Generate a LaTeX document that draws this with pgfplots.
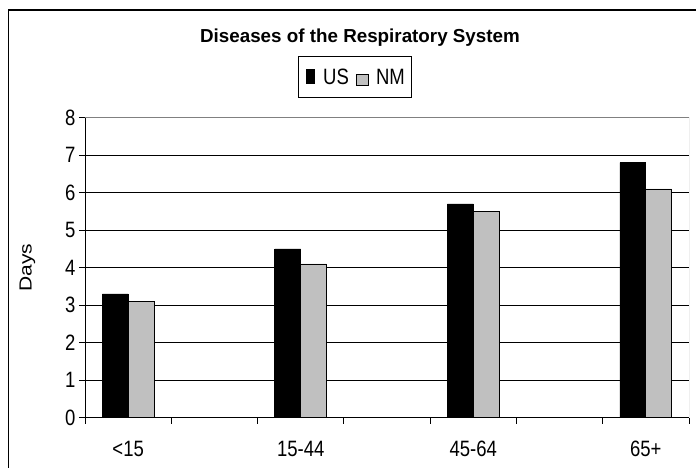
\documentclass[border=0pt]{standalone}
\usepackage{pgfplots}
\pgfplotsset{compat=1.18}
\usepackage{fontspec}
\setmainfont{Liberation Sans}
\definecolor{nmgray}{RGB}{192,192,192}
\definecolor{axgray}{RGB}{128,128,128}
% the chart's text is drawn a little taller than wide
\newcommand{\tall}[1]{\scalebox{1}[1.2]{#1}}

\begin{document}
\begin{tikzpicture}
\path[use as bounding box] (0,0) rectangle (696pt,468pt);
% chart frame, cut by the picture edge on the right and bottom
\begin{scope}
  \clip (0,0) rectangle (696pt,468pt);
  \draw[line width=1.2pt] (8.5pt,-10pt) -- (8.5pt,458pt) -- (710pt,458pt);
\end{scope}
\begin{axis}[
    at={(85pt,50.3pt)}, anchor=south west,
    scale only axis, width=604pt, height=300pt,
    ybar=0pt, bar width=0.3,
    xmin=-0.5, xmax=6.5, ymin=0, ymax=8,
    xtick={-0.5,0.5,...,6.5},
    xticklabels={\tall{<15},,\tall{15-44},,\tall{45-64},,\tall{65+}},
    x tick label as interval,
    xticklabel style={yshift=-14pt},
    ytick={0,1,...,8},
    yticklabel={\tall{\pgfmathprintnumber{\tick}}},
    ymajorgrids, grid style={black, line width=0.8pt},
    axis x line*=bottom, axis y line*=left,
    x axis line style={-, line width=1.2pt},
    y axis line style={-, line width=0.9pt},
    tick align=outside, major tick length=6pt,
    tick style={black, line width=0.8pt},
    ticklabel style={font=\fontsize{18.5}{22}\selectfont},
    /pgf/number format/assume math mode=true,
    ylabel={\scalebox{1.2}[1]{Days}},
    ylabel style={at={(rel axis cs:-0.0952,0.5)}, anchor=center,
                  font=\fontsize{17.5}{21}\selectfont},
    title={Diseases of the Respiratory System},
    title style={at={(rel axis cs:0.4553,1.232)}, anchor=base,
                 font=\bfseries\fontsize{18.8}{22}\selectfont},
    legend style={at={(rel axis cs:0.4475,1.135)}, anchor=center,
                  legend columns=-1, draw=black, line width=0.8pt,
                  font=\fontsize{18.5}{22}\selectfont,
                  inner xsep=7pt, inner ysep=12pt,
                  nodes={inner sep=0pt},
                  /tikz/every odd column/.style={column sep=8pt},
                  /tikz/every even column/.style={column sep=7pt}},
]
\addplot[fill=black, draw=black, line width=0.8pt,
  legend image code/.code={\fill[black] (0pt,-6.7pt) rectangle (8.7pt,7.3pt);}]
  coordinates {(0,3.3) (2,4.5) (4,5.7) (6,6.8)};
\addplot[fill=nmgray, draw=black, line width=0.8pt,
  legend image code/.code={\draw[fill=nmgray, draw=black, line width=0.6pt] (0pt,-7.7pt) rectangle (11.6pt,2.6pt);}]
  coordinates {(0,3.1) (2,4.1) (4,5.5) (6,6.1)};
\legend{\tall{US},\tall{NM}}
\draw[axgray, line width=0.9pt] (rel axis cs:0,1) -- (rel axis cs:1,1) -- (rel axis cs:1,0);
\end{axis}
\end{tikzpicture}
\end{document}
